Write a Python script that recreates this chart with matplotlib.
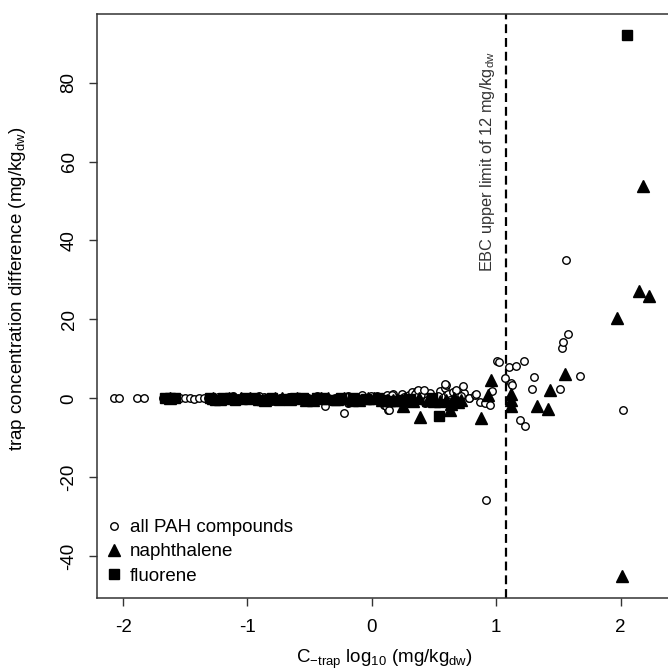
import matplotlib
matplotlib.use('Agg')
import matplotlib.pyplot as plt
import numpy as np

plt.rcParams.update({
    'font.family':       'sans-serif',
    'font.sans-serif':   ['Liberation Sans', 'DejaVu Sans'],
    'font.size':         13,
    'axes.unicode_minus': False,
    'mathtext.fontset':  'custom',
    'mathtext.rm':       'Liberation Sans',
    'mathtext.it':       'Liberation Sans:italic',
    'mathtext.default':  'rm',
})

EBC_LIMIT = 12.0  # mg/kg_dw

# all PAH compounds: x = log10 C_trap, y = concentration difference
pah_x = [-2.07, -2.03, -1.89, -1.83, -1.68, -1.66, -1.63, -1.61, -1.58, -1.56,
         -1.54, -1.50, -1.46, -1.43, -1.39, -1.35, -1.32, -1.29, -1.27, -1.24,
         -1.22, -1.19, -1.16, -1.14, -1.11, -1.08, -1.06, -1.03, -1.00, -0.98,
         -0.95, -0.93, -0.90, -0.87, -0.85, -0.82, -0.79, -0.77, -0.74, -0.72,
         -0.69, -0.66, -0.64, -0.61, -0.59, -0.56, -0.53, -0.51, -0.48, -0.45,
         -0.43, -0.40, -0.38, -0.35, -0.32, -0.30, -0.27, -0.25, -0.22, -0.19,
         -0.17, -0.14, -0.11, -0.09, -0.06, -0.04, -0.01, 0.02, 0.04, 0.07,
         0.09, 0.12, 0.14, 0.17, 0.19, 0.22, 0.24, 0.26, 0.28, 0.30,
         0.32, 0.34, 0.36, 0.38, 0.40, 0.43, 0.45, 0.47, 0.50, 0.52,
         0.55, 0.57, 0.59, 0.61, 0.63, 0.65, 0.67, 0.70, 0.74, 0.78,
         -1.25, -1.12, -1.02, -0.91, -0.80, -0.67, -0.57, -0.44, -0.33, -0.20,
         -0.08, 0.05, 0.16, 0.27, 0.35, 0.44, 0.53, 0.62, 0.68, 0.72,
         # scattered values
         -0.38, -0.22, -0.19, 0.10, 0.13, 0.11, 0.14, 0.37, 0.42, 0.60,
         0.59, 0.73, 0.78, 0.83, 0.84, 0.87, 0.91, 0.95, 0.97, 0.92,
         1.01, 1.02, 1.07, 1.10, 1.12, 1.13, 1.16, 1.19, 1.22, 1.23,
         1.29, 1.30, 1.51, 1.53, 1.54, 1.56, 1.58, 1.67, 2.02]
pah_y = [0.0, 0.0, 0.0, 0.0, 0.0, 0.2, -0.2, 0.1, 0.0, -0.1,
         0.0, 0.0, 0.1, -0.1, 0.0, 0.0, 0.2, -0.2, 0.0, 0.3,
         -0.3, 0.0, 0.1, -0.1, 0.2, 0.0, -0.2, 0.1, 0.0, -0.3,
         0.2, 0.0, -0.1, 0.3, 0.0, -0.2, 0.1, -0.4, 0.2, 0.0,
         -0.1, 0.3, -0.3, 0.0, 0.2, -0.2, 0.4, 0.0, -0.3, 0.1,
         0.3, -0.4, 0.0, 0.2, -0.5, 0.1, 0.4, -0.2, 0.0, 0.5,
         -0.3, 0.2, -0.6, 0.4, 0.0, -0.4, 0.6, -0.2, 0.5, -0.7,
         0.3, 0.8, -0.5, 1.0, 0.2, -0.8, 1.2, 0.4, -1.0, 0.9,
         1.5, -0.6, 1.8, 0.3, 1.1, -1.2, 0.6, 1.4, -0.9, 0.2,
         1.9, -1.3, 2.6, 1.0, -0.4, 1.6, -1.1, 0.7, 1.3, 0.2,
         -0.5, 0.5, -0.4, 0.6, -0.6, 0.4, -0.5, 0.7, -0.6, 0.3,
         0.8, -0.7, 0.9, -0.8, 1.2, -0.5, 0.6, -0.9, 2.1, 0.5,
         -2.0, -3.7, -1.3, -1.8, -2.9, -2.0, -2.9, 2.2, 2.2, 3.5,
         3.7, 3.1, 0.2, 0.8, 1.0, -0.9, -1.3, -1.8, 1.8, -25.8,
         9.4, 9.2, 5.1, 7.9, 4.0, 3.3, 8.3, -5.6, 9.4, -7.1,
         2.4, 5.4, 2.4, 12.8, 14.4, 35.1, 16.4, 5.6, -2.9]

# naphthalene
naph_x = [-1.62, -1.28, -1.22, -1.15, -1.05, -0.98, -0.91, -0.86, -0.78, -0.72,
          -0.66, -0.60, -0.53, -0.47, -0.41, -0.35, -0.28, -0.22, -0.16, -0.10,
          -0.03, 0.02, 0.08, 0.12, 0.17, 0.20, 0.25, 0.27, 0.33, 0.38,
          0.39, 0.45, 0.50, 0.55, 0.60, 0.63, 0.64, 0.66, 0.69, 0.72,
          0.88, 0.93, 0.96, 1.12, 1.12, 1.12, 1.33, 1.42, 1.43, 1.55,
          1.97, 2.18, 2.15, 2.23, 2.01]
naph_y = [0.0, 0.0, -0.2, 0.0, 0.0, 0.0, -0.2, -0.3, 0.0, 0.0,
          -0.2, 0.0, -0.3, -0.3, 0.0, 0.0, -0.2, 0.0, -0.3, -0.4,
          0.0, 0.0, -0.3, -0.3, -0.4, -0.5, -2.0, 0.0, -0.6, 0.0,
          -4.7, -0.3, -0.6, -0.8, -0.5, -2.9, -1.5, 0.0, -0.9, -0.3,
          -5.0, 0.8, 4.7, 1.2, -0.5, -2.0, -1.9, -2.7, 2.0, 6.2,
          20.4, 53.7, 27.3, 25.9, -45.1]

# fluorene
flu_x = [-1.66, -1.62, -1.58, -1.30, -1.26, -1.20, -1.14, -1.10, -1.02, -0.95,
         -0.88, -0.80, -0.75, -0.70, -0.62, -0.55, -0.50, -0.44, -0.40, -0.30,
         -0.25, -0.15, -0.12, -0.05, 0.05, 0.10, 0.15, 0.25, 0.31, 0.48,
         0.54, 2.05]
flu_y = [0.0, 0.1, 0.0, 0.0, -0.4, 0.0, 0.2, -0.4, 0.0, 0.1,
         -0.3, 0.0, -0.4, -0.2, 0.1, 0.0, -0.5, 0.0, 0.1, -0.5,
         0.0, 0.1, -0.5, -0.2, 0.1, -0.5, -0.6, -0.5, -0.2, 0.0,
         -4.4, 92.0]

fig = plt.figure(figsize=(6.68, 6.70), dpi=100)
ax = fig.add_axes([0.1452, 0.1075, 0.862, 0.8716])

ax.plot(pah_x, pah_y, 'o', mfc='white', mec='black', mew=1.0, ms=5.4,
        linestyle='none', label='all PAH compounds', zorder=3)
ax.plot(naph_x, naph_y, '^', color='black', ms=8.5, linestyle='none',
        label='naphthalene', zorder=4)
ax.plot(flu_x, flu_y, 's', color='black', ms=7, linestyle='none',
        label='fluorene', zorder=4)

x_lim = np.log10(EBC_LIMIT)
ax.axvline(x_lim, color='black', lw=1.6, linestyle=(0, (4, 2.2)), zorder=2)
ax.text(x_lim - 0.15, 60, r'EBC upper limit of 12 mg/kg$_{\mathrm{dw}}$',
        rotation=90, ha='center', va='center', fontsize=11.8, color='#333333')

ax.set_xlim(-2.21, 2.42)
ax.set_ylim(-50.6, 97.4)
ax.set_xticks([-2, -1, 0, 1, 2])
ax.set_yticks([-40, -20, 0, 20, 40, 60, 80])
ax.tick_params(direction='out', length=6, width=1, colors='#333333',
               labelcolor='black', labelsize=13.5)
ax.tick_params(axis='y', pad=8)
ax.tick_params(axis='x', pad=9)
for lab in ax.get_yticklabels():
    lab.set_rotation(90)
    lab.set_va('center')

for s in ax.spines.values():
    s.set_linewidth(1.1)
    s.set_color('#333333')

ax.set_xlabel(r'C$_{\mathrm{-trap}}$ log$_{10}$ (mg/kg$_{\mathrm{dw}}$)', fontsize=13.5)
ax.set_ylabel(r'trap concentration difference (mg/kg$_{\mathrm{dw}}$)', fontsize=13.5)
ax.xaxis.set_label_coords(0.5, -0.085)
ax.yaxis.set_label_coords(-0.12, 0.53)

ax.legend(loc='lower left', frameon=False, fontsize=13.5, handletextpad=0.35,
          labelspacing=0.38, borderaxespad=0.0, handlelength=1.0,
          bbox_to_anchor=(0.0, 0.01))

fig.savefig('out.png', dpi=100)
